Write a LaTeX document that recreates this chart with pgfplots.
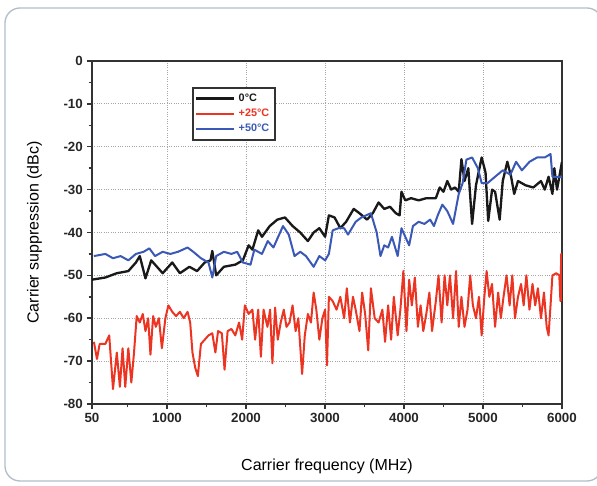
\documentclass[border=0pt]{standalone}
\usepackage{pgfplots}
\pgfplotsset{compat=1.18}
\usepackage{fontspec}
\setmainfont{Liberation Sans}
\definecolor{cblack}{RGB}{25,25,25}
\definecolor{cred}{RGB}{236,52,34}
\definecolor{cblue}{RGB}{58,88,182}
\definecolor{frame}{RGB}{178,190,202}
\begin{document}
\begin{tikzpicture}[x=0.6pt,y=0.6pt]
% frame (coordinates in px relative to axis origin)
\draw[frame,line width=0.8pt,rounded corners=9pt] (-87,-77) rectangle (510,396);
\begin{axis}[
  at={(0,0)}, anchor=south west,
  scale only axis, width=282pt, height=205.8pt,
  xmin=50, xmax=6000, ymin=-80, ymax=0,
  xtick={50,1000,2000,3000,4000,5000,6000},
  xticklabels={50,1000,2000,3000,4000,5000,6000},
  minor xtick={500,1500,2500,3500,4500,5500},
  ytick={-80,-70,-60,-50,-40,-30,-20,-10,0},
  yticklabels={-80,-70,-60,-50,-40,-30,-20,-10,0},
  minor ytick={-75,-65,-55,-45,-35,-25,-15,-5},
  tick align=outside, tick pos=left,
  major tick length=3pt, minor tick length=2pt,
  every tick/.style={line width=0.9pt, black!80},
  axis line style={line width=1.3pt, black!80},
  ymajorgrids, xmajorgrids,
  major grid style={densely dotted, gray!70, line width=0.6pt},
  tick label style={font=\bfseries\fontsize{8}{8}\selectfont, text=black!85},
  xticklabel style={yshift=1pt},
  yticklabel style={xshift=1pt},
  xlabel={Carrier frequency (MHz)},
  ylabel={Carrier suppression (dBc)},
  label style={font=\fontsize{9.6}{10}\selectfont},
  xlabel style={yshift=-15pt},
  ylabel style={yshift=6pt},
  legend style={at={(0.212,0.925)}, anchor=north west, draw=black!80, line width=1.2pt,
    font=\bfseries\fontsize{6.5}{7}\selectfont, inner sep=1.5pt, row sep=-1pt,
    cells={anchor=west}},
  legend image code/.code={\draw[#1] (0cm,0cm) -- (0.8cm,0cm);},
  every axis plot/.append style={line width=1.2pt, line join=round},
]
\addplot[cblack, line width=1.4pt] coordinates {
(50,-51) (219,-50.5) (364,-49.5) (510,-49) (606,-47) (655,-45.5) (727,-50.7) (800,-46.5)
(945,-49.5) (1066,-47) (1163,-49.5) (1283,-48) (1380,-49) (1477,-47) (1550,-46.5) (1573,-44.3)
(1622,-50) (1719,-48) (1864,-47.5) (1960,-46.5) (2033,-43) (2081,-44) (2154,-39.5) (2202,-41)
(2300,-38.5) (2396,-37) (2493,-36.5) (2590,-38.5) (2686,-40) (2783,-42) (2856,-40) (2928,-39)
(3001,-41) (3049,-36) (3121,-36.5) (3194,-39) (3267,-37.5) (3363,-34.5) (3436,-35.5) (3532,-37)
(3605,-35.5) (3678,-33) (3750,-34.5) (3823,-34) (3896,-35.5) (3944,-36) (3968,-30.5) (4016,-32.5)
(4089,-32) (4186,-32.5) (4282,-32) (4403,-32) (4452,-29.5) (4500,-30.5) (4548,-28) (4597,-30)
(4645,-29.5) (4693,-30.5) (4727,-22.9) (4766,-28) (4814,-25) (4862,-38) (4911,-29) (4983,-22.5)
(5032,-26) (5066,-37.3) (5115,-30) (5153,-30.5) (5211,-37) (5250,-28) (5308,-23.5) (5356,-27)
(5395,-31) (5443,-28) (5540,-29) (5637,-29.5) (5734,-28) (5782,-30) (5830,-27) (5879,-31)
(5903,-25) (5937,-30) (6000,-23.5)
};
\addlegendentry{\textcolor{cblack}{0°C}}
\addplot[cred] coordinates {
(74,-65.5) (113,-69.5) (147,-66) (219,-66) (268,-64) (316,-76.5) (364,-68) (403,-76) (437,-67)
(471,-76) (510,-67) (548,-75) (582,-68) (616,-59.5) (655,-61) (693,-59) (727,-63) (761,-60)
(790,-68.5) (824,-59.5) (858,-62) (897,-60) (935,-67) (979,-60) (1017,-57) (1066,-58.5)
(1114,-59.5) (1163,-58.5) (1211,-60) (1260,-58.5) (1293,-61) (1322,-68) (1356,-71.5) (1390,-73.5)
(1429,-66) (1477,-65) (1525,-64) (1573,-63.5) (1612,-68) (1646,-63) (1694,-63.5) (1728,-72)
(1767,-63) (1815,-62.5) (1864,-64) (1912,-61) (1951,-65) (1985,-57) (2033,-59) (2081,-58)
(2115,-65) (2154,-58) (2188,-69) (2222,-58) (2271,-62) (2305,-58) (2334,-70.5) (2368,-57.5)
(2402,-65) (2439,-61) (2478,-58) (2512,-62) (2551,-61) (2589,-57) (2628,-63) (2662,-60)
(2710,-73) (2744,-64) (2783,-59) (2822,-61) (2856,-54) (2890,-58) (2928,-65) (2967,-60)
(3001,-58) (3025,-71) (3049,-55) (3097,-56) (3146,-58) (3194,-55) (3242,-60) (3276,-53)
(3315,-61) (3354,-55) (3388,-58) (3436,-63) (3470,-54) (3508,-59) (3547,-67.5) (3581,-53)
(3629,-60) (3678,-61) (3726,-58) (3760,-65.5) (3799,-57) (3837,-65) (3871,-55) (3920,-64)
(3954,-58) (3992,-49) (4031,-63) (4065,-51) (4099,-57) (4137,-50.5) (4176,-62) (4210,-57)
(4244,-63) (4282,-59) (4321,-54) (4355,-63) (4403,-56) (4437,-50) (4476,-61) (4514,-50)
(4548,-57) (4582,-50) (4621,-60) (4659,-49) (4693,-62) (4727,-55) (4766,-62) (4804,-58)
(4838,-50) (4872,-57) (4911,-60) (4949,-55) (4983,-64) (5017,-55) (5046,-49) (5080,-55)
(5114,-52) (5153,-62) (5192,-54) (5226,-60) (5260,-55) (5298,-50) (5337,-57) (5371,-50)
(5405,-60) (5443,-55) (5482,-52) (5515,-57) (5549,-50) (5588,-58) (5627,-52) (5661,-57)
(5695,-53) (5734,-60) (5772,-54) (5806,-62) (5830,-64) (5855,-57) (5879,-50) (5927,-49.5)
(5966,-50) (5980,-56) (5990,-45) (6000,-56)
};
\addlegendentry{\textcolor{cred}{+25°C}}
\addplot[cblue] coordinates {
(74,-45.5) (219,-45) (316,-46) (413,-45.5) (510,-46.5) (606,-45) (703,-44.5) (776,-43.7)
(848,-45.5) (945,-44.5) (1042,-45) (1139,-44.5) (1260,-43.5) (1332,-44.5) (1429,-46) (1525,-47)
(1573,-50.5) (1622,-45.5) (1719,-44.5) (1815,-45) (1888,-44.5) (1960,-47) (2057,-47.5) (2105,-44)
(2202,-45) (2275,-42) (2347,-43.5) (2468,-38.5) (2541,-40.5) (2614,-45.5) (2686,-44.5) (2759,-45.5)
(2856,-48) (2928,-45.5) (3001,-46.5) (3049,-45) (3097,-39.5) (3170,-39) (3242,-39) (3291,-40.5)
(3388,-37.5) (3460,-36.5) (3581,-35.5) (3654,-40) (3702,-45.5) (3750,-43) (3799,-43.5) (3847,-41)
(3920,-45.5) (3968,-39) (4016,-41) (4065,-43) (4113,-38.5) (4186,-37.5) (4258,-38) (4331,-37)
(4379,-38.5) (4427,-36) (4485,-33.5) (4548,-35) (4621,-38) (4693,-31) (4742,-28.5) (4790,-23)
(4862,-22.5) (4935,-25) (4983,-28.5) (5056,-28.5) (5153,-27) (5250,-25.5) (5347,-26.5) (5419,-23.5)
(5492,-25.5) (5589,-23.5) (5685,-22.5) (5782,-22.5) (5855,-21.7) (5879,-27) (6000,-27)
};
\addlegendentry{\textcolor{cblue}{+50°C}}
\end{axis}
\pgfresetboundingbox
\path (-92,-82) rectangle (505,404);
\end{tikzpicture}
\end{document}
